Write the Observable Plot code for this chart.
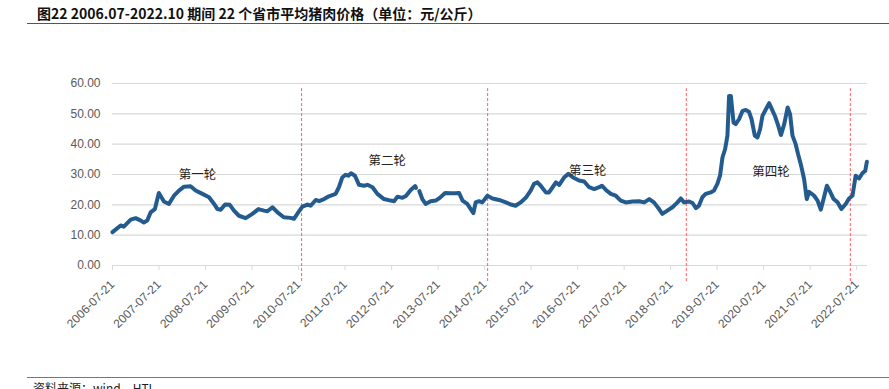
<!DOCTYPE html>
<html>
<head>
<meta charset="utf-8">
<script src="https://cdn.jsdelivr.net/npm/d3@7"></script>
<script src="https://cdn.jsdelivr.net/npm/@observablehq/plot@0.6"></script>
<style>
  html, body { margin: 0; padding: 0; background: #fff; }
  #wrap { position: relative; width: 889px; height: 389px; overflow: hidden; background: #fff; }
  #title { position: absolute; left: 37px; top: 3px; font-family: "Noto Sans CJK SC", sans-serif; font-weight: bold; font-size: 14px; color: #111; white-space: nowrap; line-height: 20px; }
  #topline { position: absolute; left: 27px; right: 0; top: 23px; height: 0; border-top: 1.5px solid #555; }
  #chart { position: absolute; left: 0; top: 30px; }
  #botline { position: absolute; left: 27px; right: 0; top: 377px; height: 0; border-top: 1.5px solid #777; }
  #source { position: absolute; left: 33px; top: 380px; font-family: "Noto Sans CJK SC", sans-serif; font-size: 12px; color: #222; white-space: nowrap; line-height: 16px; }
</style>
</head>
<body>
<div id="wrap">
  <div id="title">图22 2006.07-2022.10 期间 22 个省市平均猪肉价格（单位：元/公斤）</div>
  <div id="topline"></div>
  <div id="chart"></div>
  <div id="botline"></div>
  <div id="source">资料来源：wind，HTI</div>
</div>
<script>
// ---- data ----
const dates = [
  "2006-07-21","2006-09-23","2006-10-18","2006-12-11","2007-01-19","2007-02-28","2007-03-24","2007-04-20",
  "2007-05-16","2007-06-19","2007-07-20","2007-08-29","2007-10-07","2007-11-16","2007-12-25","2008-02-03",
  "2008-03-25","2008-05-04","2008-06-26","2008-08-17","2008-09-26","2008-10-22","2008-11-17","2008-12-21",
  "2009-01-27","2009-03-01","2009-04-09","2009-06-01","2009-07-23","2009-09-09","2009-10-23","2009-11-19",
  "2009-12-28","2010-02-06","2010-03-27","2010-05-19","2010-06-15","2010-07-19","2010-08-20","2010-09-29",
  "2010-10-24","2010-12-03","2010-12-29","2011-02-07","2011-03-16","2011-05-08","2011-06-03","2011-06-29",
  "2011-07-25","2011-08-16","2011-09-06","2011-10-07","2011-11-08","2011-12-17","2012-01-13","2012-02-22",
  "2012-03-31","2012-05-22","2012-07-13","2012-08-09","2012-09-05","2012-10-14","2012-11-10","2012-12-18",
  "2013-01-22","2013-01-28","2013-02-10","2013-02-24","2013-03-19","2013-04-14","2013-05-23","2013-07-02",
  "2013-08-03","2013-09-14","2013-10-28","2013-12-07","2014-01-02","2014-01-29","2014-03-07","2014-04-03",
  "2014-04-24","2014-05-12","2014-06-07","2014-07-03","2014-08-12","2014-09-21","2014-11-12","2015-01-04",
  "2015-02-13","2015-03-21","2015-04-30","2015-06-09","2015-07-18","2015-08-13","2015-09-09","2015-10-05",
  "2015-11-14","2015-12-09","2016-01-06","2016-02-01","2016-02-27","2016-04-05","2016-05-09","2016-06-15",
  "2016-08-01","2016-09-10","2016-10-19","2016-11-28","2017-01-06","2017-01-27","2017-02-28","2017-04-07",
  "2017-05-16","2017-06-24","2017-08-03","2017-09-25","2017-11-16","2017-12-25","2018-02-03","2018-03-12",
  "2018-04-21","2018-05-17","2018-06-25","2018-08-04","2018-09-13","2018-10-09","2018-11-04","2018-12-13",
  "2019-01-09","2019-02-05","2019-02-28","2019-03-27","2019-04-22","2019-06-01","2019-06-26","2019-07-23",
  "2019-08-13","2019-09-01","2019-09-22","2019-10-10","2019-10-23","2019-11-06","2019-11-27","2019-12-14",
  "2020-01-10","2020-02-06","2020-03-02","2020-03-27","2020-04-16","2020-05-12","2020-06-02","2020-06-23",
  "2020-07-11","2020-08-07","2020-09-02","2020-09-21","2020-10-17","2020-11-12","2020-12-03","2020-12-29",
  "2021-01-25","2021-02-13","2021-03-04","2021-03-29","2021-04-17","2021-05-08","2021-06-03","2021-06-24",
  "2021-07-12","2021-08-21","2021-09-17","2021-10-12","2021-11-03","2021-11-29","2021-12-25","2022-01-21",
  "2022-02-22","2022-03-23","2022-04-26","2022-05-22","2022-06-18","2022-07-13","2022-08-09","2022-09-05",
  "2022-09-26","2022-10-09"
];
const prices = [
  11.0,13.2,12.8,15.1,15.6,14.8,14.2,14.8,
  17.5,18.6,23.9,21.1,20.3,23.0,24.7,26.0,
  26.1,24.7,23.6,22.5,20.3,18.6,18.4,20.1,
  20.0,18.1,16.4,15.6,17.0,18.6,18.1,17.9,
  19.2,17.5,15.9,15.7,15.4,17.5,19.4,20.1,
  19.7,21.6,21.2,21.9,22.8,23.6,25.8,29.0,
  29.9,29.6,30.4,29.6,26.6,26.3,26.6,25.8,
  23.6,21.9,21.4,21.2,22.7,22.3,22.9,24.9,
  26.2,25.6,null,24.5,21.9,20.3,21.2,21.4,
  22.3,23.9,23.8,23.8,23.9,21.4,20.3,18.6,
  17.3,20.8,21.2,20.8,23.0,22.1,21.6,20.8,
  20.1,19.7,20.8,22.3,24.7,26.9,27.4,26.3,
  24.1,24.1,25.8,27.4,26.6,29.0,30.2,29.0,
  28.0,27.7,25.8,25.2,25.8,26.3,24.9,23.6,
  23.0,21.4,20.8,21.1,21.2,20.8,21.9,20.8,
  18.6,17.0,18.1,19.2,20.8,22.1,20.8,21.1,
  20.6,18.9,19.7,22.5,23.6,24.1,24.7,26.9,
  29.6,35.6,38.4,42.8,55.9,55.9,47.1,46.6,
  48.3,51.0,51.3,50.7,48.3,42.8,42.2,45.0,
  49.3,51.5,53.5,51.7,49.3,46.1,43.0,46.6,
  52.1,49.9,42.8,40.0,36.7,33.4,28.5,21.9,
  24.3,23.0,21.4,18.4,21.9,26.3,24.3,21.9,
  20.8,18.6,20.3,22.1,23.0,29.6,28.7,30.5,
  31.2,34.2
];
const yTicks = [0, 10, 20, 30, 40, 50, 60];
const xTickLabels = ["2006-07-21","2007-07-21","2008-07-21","2009-07-21","2010-07-21","2011-07-21",
  "2012-07-21","2013-07-21","2014-07-21","2015-07-21","2016-07-21","2017-07-21","2018-07-21",
  "2019-07-21","2020-07-21","2021-07-21","2022-07-21"];
const cycleBreaks = ["2010-08-14","2014-08-14","2018-11-21","2022-06-01"];
const cycleNames = ["第一轮","第二轮","第三轮","第四轮"];
const cycleNameDates = ["2008-05-18","2012-06-16","2016-10-08","2020-09-17"];
const cycleNameValues = [30.0, 34.3, 31.0, 30.7];

// ---- build ----
const parse = d3.utcParse("%Y-%m-%d");
const series = dates.map((d, i) => ({date: parse(d), price: prices[i] == null ? NaN : prices[i]}));
const tickDates = xTickLabels.map(parse);
const breaks = cycleBreaks.map(parse);
const names = cycleNames.map((n, i) => ({name: n, date: parse(cycleNameDates[i]), v: cycleNameValues[i]}));

const chart = Plot.plot({
  width: 889,
  height: 330,
  marginLeft: 112,
  marginRight: 22,
  marginTop: 53,
  marginBottom: 95,
  style: {fontFamily: "'Liberation Sans', Arial, sans-serif", fontSize: "12px", background: "transparent"},
  x: {type: "utc", domain: [parse("2006-07-21"), parse("2022-10-14")]},
  y: {domain: [0, 60]},
  marks: [
    Plot.ruleY(yTicks, {stroke: "#d9d9d9", strokeWidth: 1.2}),
    Plot.axisY({ticks: yTicks, tickFormat: d => d.toFixed(2), tickSize: 0, tickPadding: 12, fill: "#595959", fontSize: 12, label: null}),
    Plot.axisX({ticks: tickDates, tickFormat: d3.utcFormat("%Y-%m-%d"), tickRotate: -45, tickSize: 5, tickPadding: 12,
      stroke: "#d9d9d9", fill: "#595959", fontSize: 12, label: null}),
    Plot.ruleX(breaks, {y1: -5.3, y2: 58.3, stroke: "#ff5b5b", strokeWidth: 1, strokeDasharray: "3,2"}),
    Plot.line(series, {x: "date", y: "price", stroke: "#245b8f", strokeWidth: 4, strokeLinejoin: "round", strokeLinecap: "round"}),
    Plot.text(names, {x: "date", y: "v", text: "name", fontFamily: "'Noto Sans CJK SC', sans-serif", fontSize: 12.5, fill: "#222"})
  ]
});
document.getElementById("chart").appendChild(chart);
</script>
</body>
</html>
